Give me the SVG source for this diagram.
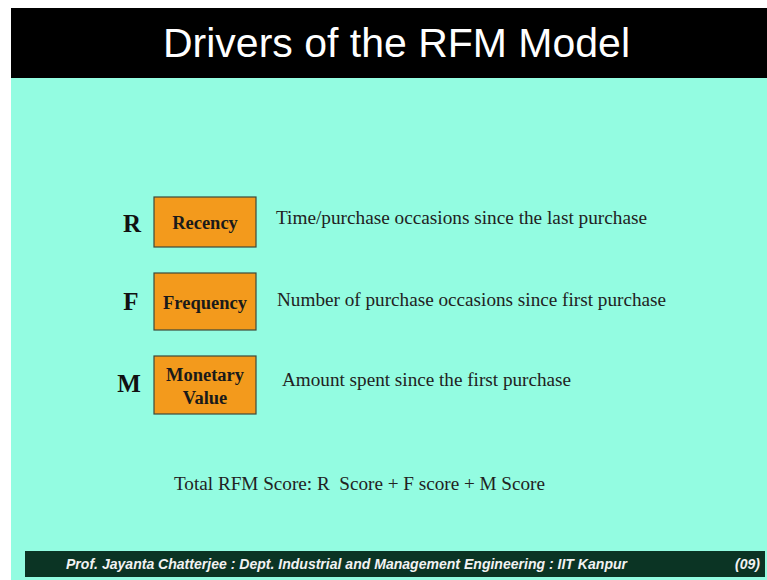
<svg xmlns="http://www.w3.org/2000/svg" width="767" height="580" viewBox="0 0 767 580">
<style>
.box{fill:#F39A1C;stroke:#3c4a3a;stroke-width:1.2}
.lbl{font-family:"Liberation Serif",serif;font-weight:bold;font-size:18.5px;fill:#1a1a1a;text-anchor:middle}
.let{font-family:"Liberation Serif",serif;font-weight:bold;font-size:25px;fill:#111;text-anchor:middle}
.desc{font-family:"Liberation Serif",serif;font-size:19px;fill:#222;white-space:pre}
</style>
<rect x="0" y="0" width="767" height="580" fill="#ffffff"/>
<rect x="11" y="8" width="756" height="572" fill="#93FCE1"/>
<rect x="11" y="8" width="756" height="70" fill="#000"/>
<text x="163" y="57" font-family="Liberation Sans, Arial, sans-serif" font-size="40" fill="#fff" textLength="467" lengthAdjust="spacingAndGlyphs">Drivers of the RFM Model</text>
<g id="recency">
<text class="let" x="132" y="232">R</text>
<rect class="box" x="154" y="197" width="102" height="50"/>
<text class="lbl" x="205" y="229">Recency</text>
<text class="desc" x="276" y="224" textLength="371" lengthAdjust="spacingAndGlyphs">Time/purchase occasions since the last purchase</text>
</g>
<g id="frequency">
<text class="let" x="131" y="310">F</text>
<rect class="box" x="154" y="273" width="102" height="57"/>
<text class="lbl" x="205" y="309">Frequency</text>
<text class="desc" x="277" y="306" textLength="389" lengthAdjust="spacingAndGlyphs">Number of purchase occasions since first purchase</text>
</g>
<g id="monetary">
<text class="let" x="129" y="392">M</text>
<rect class="box" x="154" y="356" width="102" height="58"/>
<text class="lbl" x="205" y="381">Monetary</text>
<text class="lbl" x="205" y="404">Value</text>
<text class="desc" x="282" y="386" textLength="289" lengthAdjust="spacingAndGlyphs">Amount spent since the first purchase</text>
</g>
<g id="connectors"></g>
<text class="desc" x="174" y="490" xml:space="preserve" textLength="371" lengthAdjust="spacingAndGlyphs">Total RFM Score: R  Score + F score + M Score</text>
<rect x="25" y="551" width="740" height="26" fill="#0B3424"/>
<text x="66" y="569" font-family="Liberation Sans, Arial, sans-serif" font-style="italic" font-weight="bold" font-size="14" fill="#f2f2f2" textLength="561" lengthAdjust="spacingAndGlyphs">Prof. Jayanta Chatterjee : Dept. Industrial and Management Engineering : IIT Kanpur</text>
<text x="735" y="569" font-family="Liberation Sans, Arial, sans-serif" font-style="italic" font-weight="bold" font-size="14" fill="#f2f2f2">(09)</text>
</svg>
